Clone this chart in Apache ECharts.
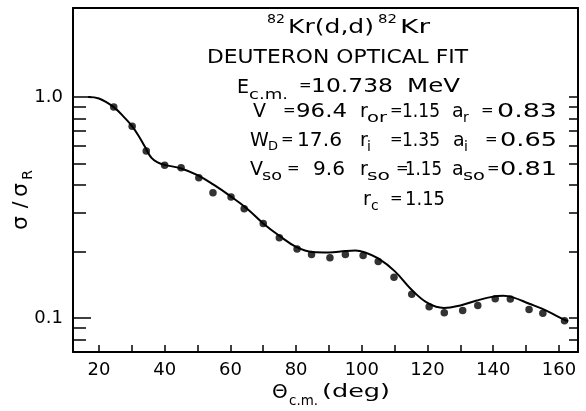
<!DOCTYPE html>
<html>
<head>
<meta charset="utf-8">
<script src="https://cdn.jsdelivr.net/npm/echarts@6/dist/echarts.min.js"></script>
<style>
  html, body { margin: 0; padding: 0; background: #fff; }
  #main { width: 586px; height: 411px; }
</style>
</head>
<body>
<div id="main"></div>
<script>
// measured angular distribution, 82Kr(d,d) at 10.738 MeV
const thetaData = [24.5, 30.1, 34.4, 40.0, 45.0, 50.4, 54.7, 60.2, 64.2, 70.0, 74.9, 80.3, 84.7, 90.3,
  95.0, 100.4, 105.0, 109.8, 115.2, 120.5, 125.1, 130.7, 135.3, 140.6, 145.2, 150.9, 155.1, 161.7];
const ratioData = [0.90, 0.737, 0.570, 0.491, 0.479, 0.431, 0.369, 0.353, 0.312, 0.268, 0.231, 0.205, 0.194, 0.1875,
  0.194, 0.192, 0.180, 0.153, 0.128, 0.1125, 0.1057, 0.1083, 0.114, 0.1223, 0.122, 0.1094, 0.105, 0.0973];

// optical model fit curve
const thetaFit = [16.7, 20, 24.5, 28, 30, 32, 34, 36, 38, 40, 45, 50, 55, 60, 65, 70, 75, 80, 85, 90,
  95, 98, 101, 105, 110, 115, 120, 125, 130, 135, 140, 143, 146, 151, 155, 160, 162.8];
const ratioFit = [1.0, 0.985, 0.90, 0.80, 0.74, 0.67, 0.595, 0.53, 0.505, 0.493, 0.475, 0.443, 0.40, 0.356, 0.313,
  0.268, 0.235, 0.21, 0.199, 0.198, 0.201, 0.202, 0.198, 0.186, 0.163, 0.135, 0.117, 0.111, 0.114, 0.120,
  0.125, 0.126, 0.124, 0.116, 0.110, 0.101, 0.0965];

const xTickValues = [20, 30, 40, 50, 60, 70, 80, 90, 100, 110, 120, 130, 140, 150, 160];
const xLabelValues = [20, 40, 60, 80, 100, 120, 140, 160];
const yMajorValues = [0.1, 1];
const yMajorLabels = ['0.1', '1.0'];
const yMinorValues = [0.08, 0.09, 0.2, 0.3, 0.4, 0.5, 0.6, 0.7, 0.8, 0.9];

const FONT = '"DejaVu Sans"';
const measureCtx = document.createElement('canvas').getContext('2d');
function textWidth(str, size) {
  measureCtx.font = size + 'px ' + FONT;
  return measureCtx.measureText(str).width;
}

// annotation layout: [left, right (null = natural width), centre y, text, font size]
const annotationLayout = [
  [267, 285, 20, '82', 13], [288, 374, 28, 'Kr(d,d)', 19], [378, 397, 20, '82', 13], [400, 430, 28, 'Kr', 19],
  [207, 468, 58, 'DEUTERON OPTICAL FIT', 20],
  [237, null, 88, 'E', 19], [249, 288, 95, 'c.m.', 14], [299, null, 86, '=', 15], [311, 393, 87, '10.738', 19], [407, 460, 87, 'MeV', 19],
  [253, null, 112, 'V', 19], [283, null, 111, '=', 15], [296, 347, 112, '96.4', 19],
  [360, null, 112, 'r', 19], [367, 387, 118, 'or', 14], [390, null, 111, '=', 15], [402, 440, 112, '1.15', 19],
  [452, null, 112, 'a', 19], [463, null, 118, 'r', 14], [481, null, 111, '=', 15], [497, 557, 112, '0.83', 19],
  [250, null, 141, 'W', 19], [268, null, 147, 'D', 13], [281, null, 140, '=', 15], [297, 342, 141, '17.6', 19],
  [360, null, 141, 'r', 19], [367, null, 147, 'i', 14], [390, null, 140, '=', 15], [402, 440, 141, '1.35', 19],
  [453, null, 141, 'a', 19], [464, null, 147, 'i', 14], [485, null, 140, '=', 15], [500, 557, 141, '0.65', 19],
  [250, null, 170, 'V', 19], [262, 282, 176, 'so', 14], [287, null, 169, '=', 15], [313, 345, 170, '9.6', 19],
  [360, null, 170, 'r', 19], [367, 390, 176, 'so', 14], [396, null, 169, '=', 15], [405, 442, 170, '1.15', 19],
  [452, null, 170, 'a', 19], [463, 485, 176, 'so', 14], [487, null, 169, '=', 15], [500, 557, 170, '0.81', 19],
  [363, null, 200, 'r', 19], [371, null, 206, 'c', 14], [390, null, 199, '=', 15], [405, 445, 200, '1.15', 19],
  // x axis title
  [272, null, 393, '\u0398', 20], [289, 318, 401, 'c.m.', 14], [322, 390, 392, '(deg)', 18]
];

// rotated y axis title: [centre x, centre y, text, font size]
const yTitleLayout = [
  [21, 223, '\u03c3', 22], [21, 205, '/', 20], [21, 190, '\u03c3', 22], [28, 175, 'R', 14]
];

function textToken([x0, x1, yc, str, size]) {
  const sx = x1 ? (x1 - x0) / textWidth(str, size) : 1;
  return {
    type: 'text', x: x0, y: yc, scaleX: sx, silent: true,
    style: { text: str, font: size + 'px ' + FONT, fill: '#000', align: 'left', verticalAlign: 'middle' }
  };
}

function rotatedToken([x, y, str, size]) {
  return {
    type: 'text', x: x, y: y, rotation: Math.PI / 2, silent: true,
    style: { text: str, font: size + 'px ' + FONT, fill: '#000', align: 'center', verticalAlign: 'middle' }
  };
}

const lineStyle = { color: '#000', width: 2 };
const yRange = { min: 0.0702, max: 2.527 };

const chart = echarts.init(document.getElementById('main'));
chart.setOption({
  animation: false,
  backgroundColor: '#fff',
  grid: { left: 73, right: 8, top: 8, bottom: 59 },
  xAxis: [
    {
      type: 'value', position: 'bottom', min: 12.1, max: 165.8,
      axisLine: { lineStyle: lineStyle },
      axisTick: { inside: true, length: 7, customValues: xTickValues, lineStyle: { color: '#000', width: 1.5 } },
      axisLabel: { customValues: xLabelValues, margin: 9, color: '#000', fontSize: 18, fontFamily: FONT },
      splitLine: { show: false }
    },
    {
      type: 'value', position: 'top', min: 12.1, max: 165.8,
      axisLine: { lineStyle: lineStyle }, axisTick: { show: false }, axisLabel: { show: false }, splitLine: { show: false }
    }
  ],
  yAxis: [
    {
      type: 'log', logBase: 10, position: 'left', ...yRange,
      axisLine: { lineStyle: lineStyle },
      axisTick: { inside: true, length: 18, customValues: yMajorValues, lineStyle: { color: '#000', width: 1.5 } },
      axisLabel: {
        customValues: yMajorValues, margin: 10, color: '#000', fontSize: 18, fontFamily: FONT,
        formatter: v => yMajorLabels[v > 0.5 ? 1 : 0]
      },
      splitLine: { show: false }
    },
    {
      type: 'log', logBase: 10, position: 'left', ...yRange,
      axisLine: { show: false },
      axisTick: { inside: true, length: 13, customValues: yMinorValues, lineStyle: { color: '#000', width: 1.5 } },
      axisLabel: { show: false }, splitLine: { show: false }
    },
    {
      type: 'log', logBase: 10, position: 'right', ...yRange,
      axisLine: { lineStyle: lineStyle },
      axisTick: { inside: true, length: 9, customValues: yMajorValues.concat(yMinorValues), lineStyle: { color: '#000', width: 1.5 } },
      axisLabel: { show: false }, splitLine: { show: false }
    }
  ],
  series: [
    {
      type: 'line', name: 'fit', smooth: 0.4, showSymbol: false,
      data: thetaFit.map((t, i) => [t, ratioFit[i]]),
      lineStyle: { color: '#000', width: 2 }
    },
    {
      type: 'scatter', name: 'data', symbolSize: 7.5,
      data: thetaData.map((t, i) => [t, ratioData[i]]),
      itemStyle: { color: '#000' }
    }
  ],
  graphic: annotationLayout.map(textToken).concat(yTitleLayout.map(rotatedToken))
});
</script>
</body>
</html>
